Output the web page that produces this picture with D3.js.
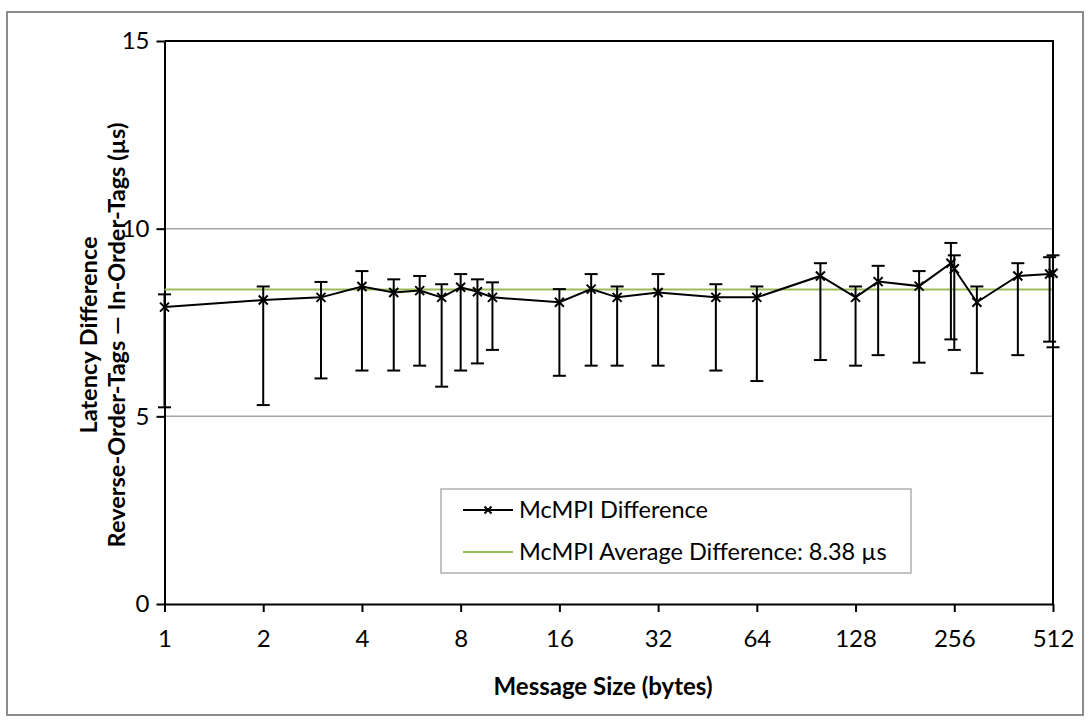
<!DOCTYPE html>
<html>
<head>
<meta charset="utf-8">
<script src="https://cdn.jsdelivr.net/npm/d3@7/dist/d3.min.js"></script>
<style>
  body { margin: 0; background: #fff; }
  svg text { font-family: Lato, "Open Sans", sans-serif; }
</style>
</head>
<body>
<svg id="mainSVG" width="1091" height="722"></svg>
<script>
var $svg = d3.select("#mainSVG");

// Data
var sizes = [1,2,3,4,5,6,7,8,9,10,16,20,24,32,48,64,100,128,150,200,250,256,300,400,500,512];
var diffs = [7.91,8.10,8.17,8.46,8.30,8.35,8.17,8.44,8.32,8.17,8.04,8.39,8.17,8.30,8.17,8.17,8.74,8.17,8.59,8.47,9.08,8.93,8.04,8.74,8.79,8.81];
var errHi = [8.25,8.46,8.58,8.87,8.65,8.74,8.52,8.79,8.65,8.57,8.39,8.79,8.46,8.79,8.52,8.46,9.08,8.46,9.01,8.87,9.62,9.29,8.46,9.08,9.24,9.29];
var errLo = [5.24,5.30,6.01,6.22,6.22,6.35,5.79,6.22,6.41,6.77,6.08,6.35,6.35,6.35,6.22,5.94,6.50,6.35,6.63,6.43,7.05,6.77,6.15,6.63,6.99,6.84];
var avgDiff = 8.38;
var xTicks = [1,2,4,8,16,32,64,128,256,512];
var yTicks = [0,5,10,15];
var seriesNames = ['McMPI Difference', 'McMPI Average Difference: 8.38 \u00b5s'];

var plotL = 164.5, plotR = 1053, plotT = 41, plotB = 604;
var capW = 13, markR = 4.5;
var avgColor = '#9bbb59';
var tickFont = 24;

var x = d3.scaleLog().base(2).domain([1,512]).range([plotL, plotR]);
var y = d3.scaleLinear().domain([0,15]).range([plotB, plotT]);

// Outer chart border
$svg.append('rect')
    .attr('x',7).attr('y',12)
    .attr('width',1076).attr('height',703)
    .attr('fill','none').attr('stroke','#8c8c8c').attr('stroke-width',2);

// Gridlines
$svg.append('g').attr('id','grid')
    .selectAll('line').data(yTicks.filter(d=>d>0 && d<15))
    .enter().append('line')
    .attr('x1',plotL).attr('x2',plotR)
    .attr('y1',d=>y(d)).attr('y2',d=>y(d))
    .attr('stroke','#a6a6a6').attr('stroke-width',1.5);

// Plot frame (top & right)
$svg.append('path')
    .attr('d',`M ${plotL} ${plotT} L ${plotR} ${plotT} L ${plotR} ${plotB}`)
    .attr('fill','none').attr('stroke','#000').attr('stroke-width',2);

// Axes
var xAxis = $svg.append('g')
    .attr('transform',`translate(0 ${plotB})`)
    .call(d3.axisBottom(x).tickValues(xTicks).tickFormat(d3.format('d')).tickSizeInner(8).tickSizeOuter(0).tickPadding(18));
var yAxis = $svg.append('g')
    .attr('transform',`translate(${plotL} 0)`)
    .call(d3.axisLeft(y).tickValues(yTicks).tickSizeInner(8).tickSizeOuter(0).tickPadding(7));

[xAxis, yAxis].forEach($a=>{
    $a.attr('font-size',tickFont).attr('font-family','Lato, "Open Sans", sans-serif');
    $a.select('.domain').attr('stroke','#000').attr('stroke-width',2);
    $a.selectAll('.tick line').attr('stroke','#000').attr('stroke-width',2);
    $a.selectAll('.tick text').attr('fill','#000').style('font-size',tickFont+'px');
});

// Axis titles
$svg.append('text')
    .attr('x',603).attr('y',695)
    .attr('text-anchor','middle')
    .attr('font-size',24).attr('font-weight','bold')
    .text('Message Size (bytes)');

var $yTitle = $svg.append('text')
    .attr('transform',`translate(97 335) rotate(-90)`)
    .attr('text-anchor','middle')
    .attr('font-size',23.5).attr('font-weight','bold');
$yTitle.append('tspan').attr('x',0).attr('dy',0).text('Latency Difference');
$yTitle.append('tspan').attr('x',0).attr('dy',28).text('Reverse-Order-Tags \u2014 In-Order-Tags (\u00b5s)');

// Average line
$svg.append('line')
    .attr('x1',plotL).attr('x2',plotR)
    .attr('y1',y(avgDiff)).attr('y2',y(avgDiff))
    .attr('stroke',avgColor).attr('stroke-width',2);

// Error bars
var $err = $svg.append('g').attr('id','error-bars')
    .selectAll('g').data(sizes).enter().append('g');
$err.append('line')
    .attr('x1',d=>x(d)).attr('x2',d=>x(d))
    .attr('y1',(d,i)=>y(errHi[i])).attr('y2',(d,i)=>y(errLo[i]));
$err.append('line')
    .attr('x1',d=>x(d)-capW/2).attr('x2',d=>x(d)+capW/2)
    .attr('y1',(d,i)=>y(errHi[i])).attr('y2',(d,i)=>y(errHi[i]));
$err.append('line')
    .attr('x1',d=>x(d)-capW/2).attr('x2',d=>x(d)+capW/2)
    .attr('y1',(d,i)=>y(errLo[i])).attr('y2',(d,i)=>y(errLo[i]));
$err.selectAll('line').attr('stroke','#000').attr('stroke-width',2);

// Series line
var line = d3.line().x((d,i)=>x(sizes[i])).y(d=>y(d));
$svg.append('path')
    .attr('d',line(diffs))
    .attr('fill','none').attr('stroke','#000').attr('stroke-width',2);

// Markers
function crossPath(cx,cy,r){
    return `M ${cx-r} ${cy-r} L ${cx+r} ${cy+r} M ${cx-r} ${cy+r} L ${cx+r} ${cy-r}`;
}
$svg.append('g').attr('id','markers')
    .selectAll('path').data(diffs).enter().append('path')
    .attr('d',(d,i)=>crossPath(x(sizes[i]),y(d),markR))
    .attr('stroke','#000').attr('stroke-width',2);

// Legend
var lgX = 441, lgY = 489, lgW = 470, lgH = 84;
var $lg = $svg.append('g').attr('id','legend');
$lg.append('rect')
    .attr('x',lgX).attr('y',lgY).attr('width',lgW).attr('height',lgH)
    .attr('fill','#fff').attr('stroke','#b0b0b0').attr('stroke-width',1.5);
var $items = $lg.selectAll('g.item').data(seriesNames).enter().append('g')
    .attr('transform',(d,i)=>`translate(${lgX+22} ${lgY+21+i*42})`);
$items.append('line')
    .attr('x1',0).attr('x2',50).attr('y1',0).attr('y2',0)
    .attr('stroke',(d,i)=>i==0?'#000':avgColor).attr('stroke-width',2);
$items.filter((d,i)=>i==0).append('path')
    .attr('d',crossPath(25,0,3.5))
    .attr('stroke','#000').attr('stroke-width',2);
$items.append('text')
    .attr('x',56).attr('y',0).attr('dy','0.35em')
    .attr('font-size',23.5)
    .text(d=>d);
</script>
</body>
</html>
